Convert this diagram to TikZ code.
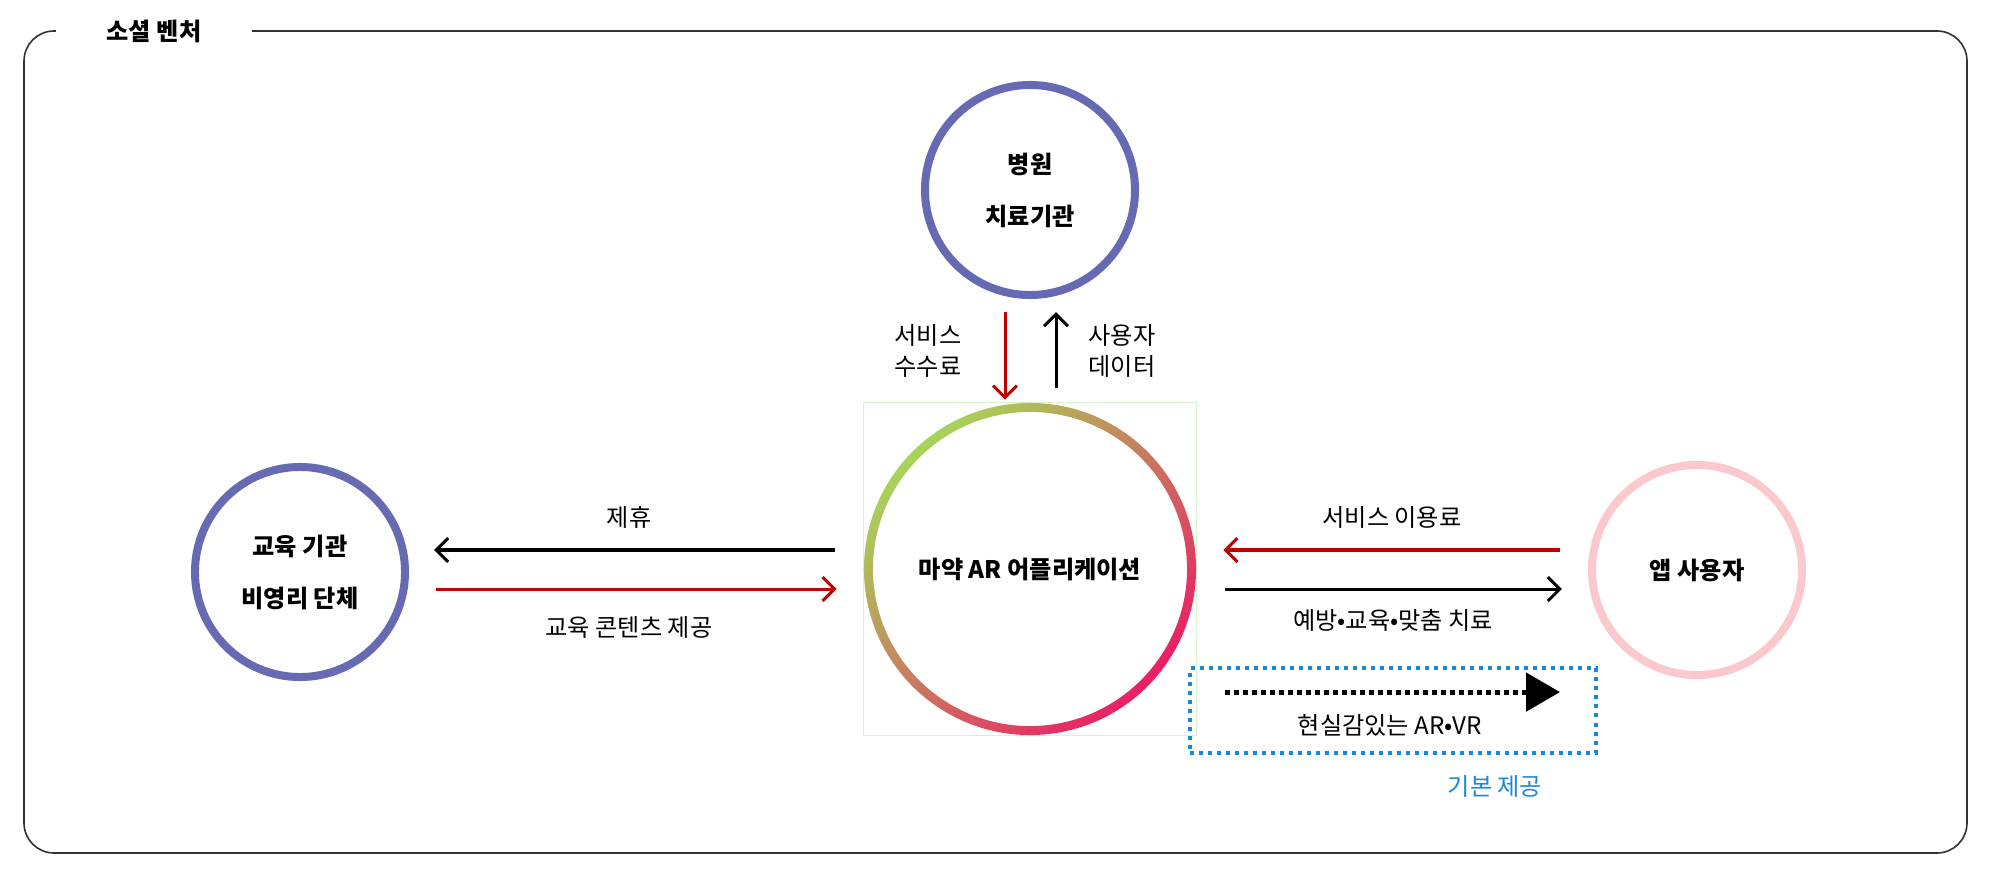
\documentclass[tikz,border=0pt]{standalone}
\usepackage{fontspec}
\setmainfont{Noto Sans CJK KR}
\usetikzlibrary{arrows.meta}
\definecolor{ringblue}{RGB}{102,106,178}
\definecolor{ringpink}{RGB}{251,200,205}
\definecolor{flowred}{RGB}{192,0,0}
\definecolor{boxblue}{RGB}{27,136,214}
\definecolor{arlime}{RGB}{168,212,90}
\definecolor{arrose}{RGB}{234,30,100}
\definecolor{boxgreen}{RGB}{214,243,206}
\definecolor{framegray}{RGB}{50,50,50}
\begin{document}
\begin{tikzpicture}[x=0.025cm,y=-0.025cm,
  font=\fontsize{17.2}{22}\selectfont,
  strong/.style={font=\bfseries\fontsize{17.2}{22}\selectfont},
  party/.style={circle,draw=ringblue,line width=0.2cm,minimum size=5.25cm,inner sep=0pt,
    align=center,font=\bfseries\fontsize{17.2}{37}\selectfont},
  flow/.style={line width=0.075cm,-{Straight Barb[length=0.3cm,width=0.6cm]}},
  tag/.style={align=center}]
\useasboundingbox (0,0) rectangle (2000,874);
% frame
\draw[framegray,line width=0.04cm,rounded corners=0.75cm] (24,31) rectangle (1967,853);
\node (venture) at (154,31) [fill=white,minimum width=4.9cm,strong] {소셜 벤처};
%
\node (hos)   at (1030,190) [party] {병원\\치료기관};
\node (edu)   at (300,572)  [party] {교육 기관\\비영리 단체};
\node (app)   at (1697,570) [party,draw=ringpink] {앱 사용자};
\node (ar)    at (1030,569) [circle,minimum size=8.3cm,inner sep=0pt,strong] {마약 AR 어플리케이션};
\draw[boxgreen,line width=0.04cm] (ar.west |- ar.north) rectangle (ar.east |- ar.south);
\shade[top color=arlime,bottom color=arrose,shading angle=45,even odd rule]
  (ar.center) circle[radius=4.15cm] (ar.center) circle[radius=3.925cm];
%
\node (fee)     at (928,351)  [tag] {서비스\\수수료};
\node (data)    at (1122,351) [tag] {사용자\\데이터};
\node (ally)    at (629,517)  [tag] {제휴};
\node (content) at (629,627)  [tag] {교육 콘텐츠 제공};
\node (usage)   at (1392,517) [tag] {서비스 이용료};
\node (care)    at (1393,620) [tag] {예방•교육•맞춤 치료};
%
\node (basic) at (1393,710.5) [draw=boxblue,line width=0.1cm,dash pattern=on 0.1cm off 0.125cm,
  minimum width=10.15cm,minimum height=2.1cm] {};
\node (real)  at (1390,725) [tag] {현실감있는 AR•VR};
\node (given) at (1495,786) [tag,text=boxblue] {기본 제공};
%
\draw[flow,flowred,shorten <=0.325cm,shorten >=0.075cm] ([xshift=-0.625cm]hos.south) -- ([xshift=-0.625cm]hos.south |- ar.north);
\draw[flow,shorten <=0.375cm,shorten >=0.325cm] ([xshift=0.65cm]ar.north) -- ([xshift=0.65cm]ar.north |- hos.south);
% left
\draw[flow,shorten <=0.725cm,shorten >=0.625cm] ([yshift=0.475cm]ar.west) -- ([yshift=0.475cm]ar.west -| edu.east);
\draw[flow,flowred,shorten <=0.675cm,shorten >=0.675cm] ([yshift=-0.5cm]ar.west -| edu.east) -- ([yshift=-0.5cm]ar.west);
% right
\draw[flow,flowred,shorten <=0.7cm,shorten >=0.675cm] ([yshift=0.475cm]ar.east -| app.west) -- ([yshift=0.475cm]ar.east);
\draw[flow,shorten <=0.725cm,shorten >=0.65cm] ([yshift=-0.5cm]ar.east) -- ([yshift=-0.5cm]ar.east -| app.west);
% dotted
\draw[line width=0.125cm,dash pattern=on 0.125cm off 0.1cm,-{Triangle[length=0.85cm,width=0.95cm]},
  shorten <=0.925cm,shorten >=0.95cm] ([yshift=0.46cm]basic.west) -- ([yshift=0.46cm]basic.east);
\end{tikzpicture}
\end{document}
